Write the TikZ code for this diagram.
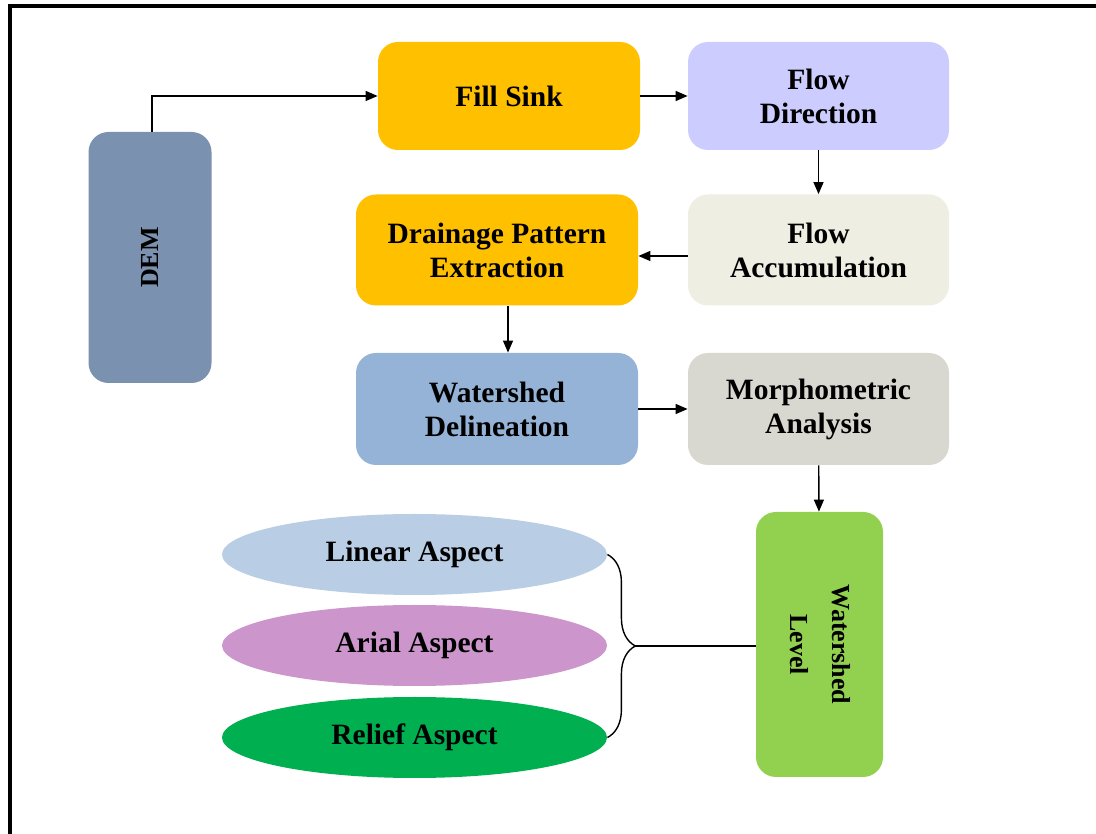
\documentclass[tikz,border=0pt]{standalone}
\usepackage{fontspec}
\setmainfont{Liberation Serif}
\usetikzlibrary{arrows.meta,shapes.geometric,positioning,calc,decorations.pathreplacing}
\usepackage{xcolor}

\definecolor{demblue}{RGB}{122,145,176}
\definecolor{sinkgold}{RGB}{255,192,0}
\definecolor{dirlilac}{RGB}{204,204,255}
\definecolor{accgrey}{RGB}{238,238,226}
\definecolor{wsblue}{RGB}{149,179,215}
\definecolor{morphgrey}{RGB}{216,215,208}
\definecolor{levelgreen}{RGB}{146,208,80}
\definecolor{linblue}{RGB}{185,205,228}
\definecolor{arialpink}{RGB}{204,150,204}
\definecolor{reliefgreen}{RGB}{0,176,80}

\begin{document}
\begin{tikzpicture}[
				x=0.5pt,y=0.5pt,
				box/.style={rectangle,rounded corners=10pt,align=center,inner sep=2pt,font=\bfseries\fontsize{14.75}{17}\selectfont},
				tallbox/.style={rectangle,rounded corners=10pt,align=center,inner sep=2pt,font=\bfseries\fontsize{13}{19}\selectfont},
				oval/.style={ellipse,minimum width=192.5pt,minimum height=40.5pt,font=\bfseries\fontsize{14.75}{17}\selectfont},
				arr/.style={-{Triangle[length=6pt,width=5pt]},line width=0.7pt}
				]
				\useasboundingbox (0,0) rectangle (1096,834);
				
				% Frame
				\draw[line width=2pt] (1100,827.5) -- (10,827.5) -- (10,-4);
				
				% Input
				\node[tallbox,fill=demblue,minimum width=61.5pt,minimum height=125.5pt] (dem) at (150,576.5) {\rotatebox{90}{DEM}};
				
				% Hydrology steps
				\node[box,fill=sinkgold,minimum width=131pt,minimum height=54pt] (fillsink) at (509,738) {Fill Sink};
				\node[box,fill=dirlilac,minimum width=130.5pt,minimum height=54pt] (flowdir) at (818.5,738) {Flow\\Direction};
				\node[box,fill=accgrey,minimum width=130.5pt,minimum height=55.5pt] (flowacc) at (818.5,584) {Flow\\Accumulation};
				\node[box,fill=sinkgold,minimum width=141pt,minimum height=55.5pt] (drainage) at (497,584) {Drainage Pattern\\Extraction};
				\node[box,fill=wsblue,minimum width=141pt,minimum height=56pt] (wsdel) at (497,425) {Watershed\\Delineation};
				\node[box,fill=morphgrey,minimum width=130.5pt,minimum height=56pt] (morph) at (818.5,425) {Morphometric\\Analysis};
				
				% Watershed level
				\node[tallbox,fill=levelgreen,minimum width=63.5pt,minimum height=132.5pt] (level) at (819.5,189.5) {\rotatebox{-90}{\begin{tabular}{@{}c@{}}Watershed\\[2pt]Level\end{tabular}}};
				
				% Aspects
				\node[oval,fill=linblue] (linear) at (414.5,279.5) {Linear Aspect};
				\node[oval,fill=arialpink] (arial) at (414.5,188.5) {Arial Aspect};
				\node[oval,fill=reliefgreen] (relief) at (414.5,96.5) {Relief Aspect};
				
				% Connections
				\draw[arr] ([xshift=1pt]dem.north) |- (fillsink.west);
				\draw[arr] (fillsink) -- (flowdir);
				\draw[arr] (flowdir) -- (flowacc);
				\draw[arr] ([yshift=-3pt]flowacc.west) -- ([yshift=-3pt]drainage.east);
				\draw[arr] ([xshift=5.5pt]drainage.south) -- ([xshift=5.5pt]wsdel.north);
				\draw[arr] (wsdel) -- (morph);
				\draw[arr] (morph) -- (level);
				
				\draw[line width=0.7pt,decorate,decoration={brace,amplitude=14pt}] (linear.east) -- (relief.east);
				\coordinate (tip) at ($(linear.east)!0.5!(relief.east)+(28,0)$);
				\draw[line width=0.7pt] (tip) -- (tip -| level.west);
				
			\end{tikzpicture}
\end{document}
